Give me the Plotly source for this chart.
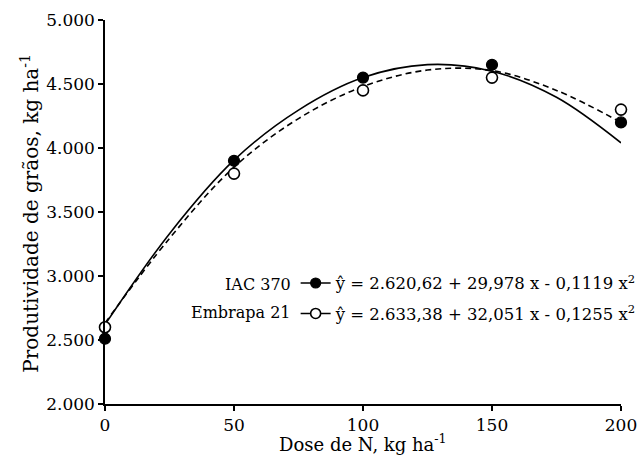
import plotly.graph_objects as go

# Observed data
dose = [0, 50, 100, 150, 200]
iac370 = [2510, 3900, 4550, 4650, 4200]
embrapa21 = [2600, 3800, 4450, 4550, 4300]

# Fitted curves
curve_x = [0, 25, 50, 75, 100, 125, 150, 175, 200]
curve_solid = [2620, 3331, 3905, 4296, 4550, 4651, 4600, 4396, 4040]
curve_dashed = [2633, 3294, 3850, 4230, 4480, 4609, 4605, 4450, 4200]

eq_iac = "ŷ = 2.620,62 + 29,978 x - 0,1119 x<sup>2</sup>"
eq_emb = "ŷ = 2.633,38 + 32,051 x - 0,1255 x<sup>2</sup>"
names = ["IAC 370", "Embrapa 21"]

y_ticks = [2000, 2500, 3000, 3500, 4000, 4500, 5000]
x_ticks = [0, 50, 100, 150, 200]

FONT = "DejaVu Serif"
fig = go.Figure()

fig.add_trace(go.Scatter(x=curve_x, y=curve_solid, mode="lines", line=dict(color="black", width=1.6, shape="spline"),
                         showlegend=False, cliponaxis=False, hoverinfo="skip"))
fig.add_trace(go.Scatter(x=curve_x, y=curve_dashed, mode="lines",
                         line=dict(color="black", width=1.6, dash="6px,4px", shape="spline"),
                         showlegend=False, cliponaxis=False, hoverinfo="skip"))
fig.add_trace(go.Scatter(x=dose, y=iac370, mode="markers", cliponaxis=False,
                         marker=dict(size=11, color="black", line=dict(color="black", width=1.2)),
                         showlegend=False))
fig.add_trace(go.Scatter(x=dose, y=embrapa21, mode="markers", cliponaxis=False,
                         marker=dict(size=11, color="white", line=dict(color="black", width=1.6)),
                         showlegend=False))

# legend entries
fig.add_trace(go.Scatter(x=[None], y=[None], mode="lines+markers", name=eq_iac, legendgroup="a",
                         line=dict(color="black", width=1.6),
                         marker=dict(size=10, color="black", line=dict(color="black", width=1.2))))
fig.add_trace(go.Scatter(x=[None], y=[None], mode="lines+markers", name=eq_emb, legendgroup="b",
                         line=dict(color="black", width=1.6),
                         marker=dict(size=10, color="white", line=dict(color="black", width=1.6))))

fig.add_annotation(x=0.3643, y=0.3125, xref="paper", yref="paper", text=names[0], showarrow=False,
                   xanchor="right", yanchor="middle", font=dict(family=FONT, size=16, color="black"))
fig.add_annotation(x=0.3643, y=0.237, xref="paper", yref="paper", text=names[1], showarrow=False,
                   xanchor="right", yanchor="middle", font=dict(family=FONT, size=16, color="black"))

# axis titles
fig.add_annotation(x=0.5, y=-0.101, xref="paper", yref="paper", text="Dose de N, kg ha<sup>-1</sup>",
                   showarrow=False, xanchor="center", yanchor="middle",
                   font=dict(family=FONT, size=18, color="black"))
fig.add_annotation(x=-0.147, y=0.496, xref="paper", yref="paper", text="Produtividade de grãos, kg ha<sup>-1</sup>",
                   showarrow=False, xanchor="center", yanchor="middle", textangle=-90,
                   font=dict(family=FONT, size=20, color="black"))

fig.update_layout(
    width=644, height=457,
    margin=dict(l=105, r=23, t=20, b=53, autoexpand=False),
    paper_bgcolor="white", plot_bgcolor="white",
    separators=",.",
    font=dict(family=FONT, size=16, color="black"),
    showlegend=True,
    legend=dict(x=1.04, xanchor="right", y=0.36, yanchor="top", bgcolor="rgba(0,0,0,0)",
                traceorder="grouped", tracegroupgap=6, itemwidth=30,
                font=dict(family=FONT, size=16.5, color="black")),
)
fig.update_xaxes(range=[0, 200], tickvals=x_ticks, showgrid=False, zeroline=False, automargin=False,
                 showline=True, linecolor="black", linewidth=1.5,
                 ticks="outside", ticklen=5, tickwidth=1.5, tickcolor="black",
                 tickfont=dict(family=FONT, size=17))
fig.update_yaxes(range=[2000, 5000], tickvals=y_ticks, tickformat=",d", showgrid=False, zeroline=False,
                 automargin=False,
                 showline=True, linecolor="black", linewidth=1.5,
                 ticks="outside", ticklen=5, tickwidth=1.5, tickcolor="black",
                 tickfont=dict(family=FONT, size=17))

fig.write_html("out.html", config={"displayModeBar": False},
               post_script="document.body.style.margin='0';document.body.style.overflow='hidden';")
